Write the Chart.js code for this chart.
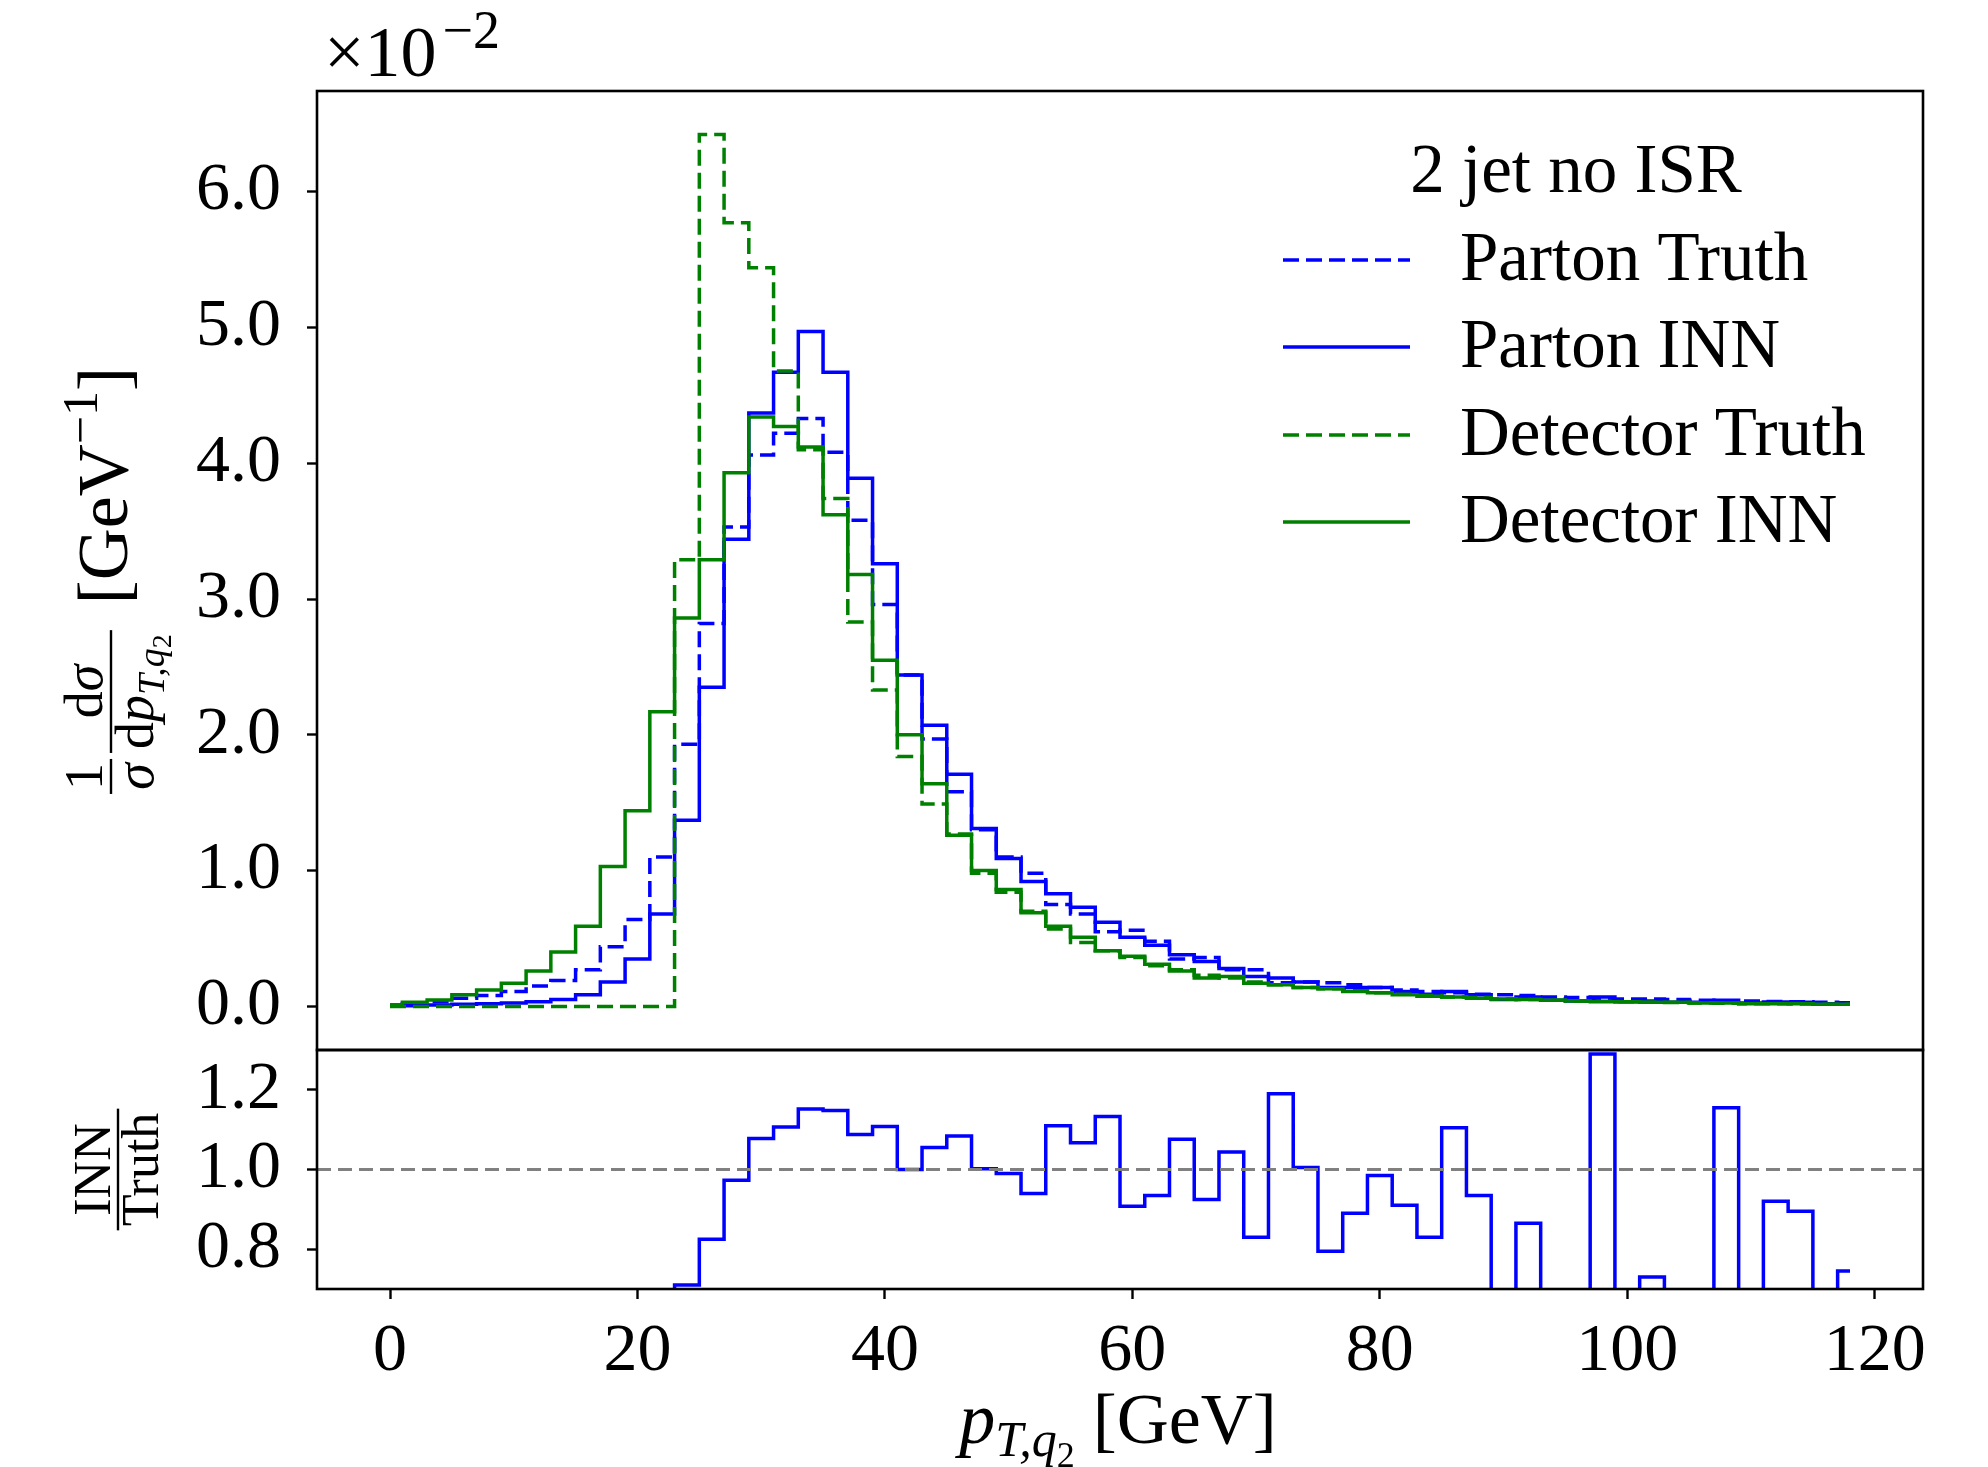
<!DOCTYPE html>
<html>
<head>
<meta charset="utf-8">
<title>pT q2 distribution</title>
<script src="https://cdn.jsdelivr.net/npm/chart.js"></script>
<style>
  html, body { margin: 0; padding: 0; background: #fff; }
  #wrap { position: relative; width: 1988px; height: 1467px; overflow: hidden; }
  #top { position: absolute; left: 0; top: 0; }
  #bottom { position: absolute; left: 0; top: 1048px; }
</style>
</head>
<body>
<div id="wrap">
  <canvas id="top" width="1988" height="1052"></canvas>
  <canvas id="bottom" width="1988" height="419"></canvas>
</div>
<script>
// bin centres in GeV (bins of 2 GeV, drawn as mid steps)
const binCenters = [0, 2, 4, 6, 8, 10, 12, 14, 16, 18, 20, 22, 24, 26, 28, 30, 32, 34, 36, 38,
  40, 42, 44, 46, 48, 50, 52, 54, 56, 58, 60, 62, 64, 66, 68, 70, 72, 74, 76, 78,
  80, 82, 84, 86, 88, 90, 92, 94, 96, 98, 100, 102, 104, 106, 108, 110, 112, 114, 116, 118];

// 1/sigma dsigma/dpT, in units of 1e-2
const partonTruth = [0.01, 0.02, 0.035, 0.06, 0.08, 0.11, 0.15, 0.19, 0.27, 0.44, 0.64, 1.10, 1.93, 2.82, 3.53, 4.06, 4.22, 4.33, 4.08, 3.58,
  2.96, 2.44, 1.97, 1.58, 1.30, 1.10, 0.98, 0.75, 0.68, 0.55, 0.56, 0.48, 0.35, 0.36, 0.27, 0.27, 0.175, 0.18, 0.175, 0.16,
  0.14, 0.12, 0.11, 0.10, 0.09, 0.085, 0.08, 0.07, 0.065, 0.055, 0.055, 0.055, 0.05, 0.045, 0.04, 0.04, 0.036, 0.034, 0.03, 0.027];
const partonINN = [0.003, 0.005, 0.01, 0.015, 0.02, 0.025, 0.035, 0.05, 0.085, 0.18, 0.35, 0.68, 1.37, 2.35, 3.44, 4.37, 4.67, 4.97, 4.67, 3.89,
  3.26, 2.44, 2.07, 1.71, 1.31, 1.09, 0.92, 0.83, 0.73, 0.62, 0.51, 0.45, 0.38, 0.33, 0.28, 0.22, 0.21, 0.18, 0.14, 0.14,
  0.14, 0.11, 0.09, 0.11, 0.085, 0.05, 0.07, 0.045, 0.04, 0.07, 0.035, 0.04, 0.03, 0.03, 0.045, 0.025, 0.033, 0.03, 0.02, 0.02];
const detectorTruth = [0, 0, 0, 0, 0, 0, 0, 0, 0, 0, 0, 0, 3.29, 6.42, 5.77, 5.44, 4.68, 4.10, 3.74, 2.83,
  2.33, 1.84, 1.49, 1.27, 0.98, 0.84, 0.70, 0.57, 0.47, 0.41, 0.36, 0.30, 0.27, 0.23, 0.21, 0.18, 0.16, 0.14, 0.13, 0.115,
  0.10, 0.09, 0.08, 0.07, 0.065, 0.055, 0.05, 0.045, 0.04, 0.038, 0.035, 0.03, 0.028, 0.025, 0.024, 0.02, 0.02, 0.018, 0.016, 0.015];
const detectorINN = [0.01, 0.03, 0.048, 0.085, 0.12, 0.17, 0.26, 0.40, 0.59, 1.03, 1.44, 2.17, 2.86, 3.29, 3.93, 4.34, 4.27, 4.12, 3.62, 3.18,
  2.55, 2.00, 1.64, 1.26, 1.00, 0.86, 0.69, 0.59, 0.51, 0.41, 0.37, 0.31, 0.26, 0.21, 0.22, 0.17, 0.16, 0.14, 0.13, 0.11,
  0.10, 0.085, 0.075, 0.07, 0.06, 0.055, 0.05, 0.045, 0.04, 0.035, 0.035, 0.03, 0.03, 0.025, 0.025, 0.02, 0.02, 0.02, 0.015, 0.015];

// parton INN / parton truth (values under 0.7 fall off the panel)
const ratioINN = [0.30, 0.25, 0.28, 0.30, 0.25, 0.22, 0.24, 0.28, 0.32, 0.42, 0.55, 0.62, 0.71, 0.825, 0.973, 1.078, 1.107, 1.152, 1.148, 1.088,
  1.108, 1.0, 1.055, 1.084, 1.002, 0.99, 0.94, 1.11, 1.067, 1.133, 0.908, 0.935, 1.076, 0.925, 1.044, 0.83, 1.19, 1.005, 0.795, 0.89,
  0.985, 0.91, 0.83, 1.105, 0.935, 0.6, 0.865, 0.62, 0.6, 1.29, 0.6, 0.73, 0.6, 0.62, 1.155, 0.6, 0.92, 0.895, 0.62, 0.745];
const ratioRef = 1.0;

const xTicks = [0, 20, 40, 60, 80, 100, 120];
const yTicksTop = [0, 1, 2, 3, 4, 5, 6];
const yTicksRatio = [0.8, 1.0, 1.2];

const legendTitle = '2 jet no ISR';
const seriesNames = ['Parton Truth', 'Parton INN', 'Detector Truth', 'Detector INN'];

const BLUE = '#0000ff';
const GREEN = '#008000';
const SERIF = "'Liberation Serif', 'DejaVu Serif', serif";
const FS = 68;

Chart.defaults.font.family = SERIF;
Chart.defaults.color = '#000';

const pts = vals => binCenters.map((x, i) => ({ x: x, y: vals[i] }));

function lineSet(label, vals, color, dashed, order) {
  return {
    label: label,
    data: pts(vals),
    borderColor: color,
    borderWidth: 3.5,
    borderDash: dashed ? [16, 7] : [],
    stepped: 'middle',
    pointRadius: 0,
    fill: false,
    order: order
  };
}

function runsWidth(ctx, runs) {
  let w = 0;
  for (const r of runs) { ctx.font = r[1]; w += ctx.measureText(r[0]).width; }
  return w;
}
function drawRuns(ctx, runs, x, y) {
  for (const r of runs) {
    ctx.font = r[1];
    ctx.fillText(r[0], x, y + (r[2] || 0));
    x += ctx.measureText(r[0]).width;
  }
  return x;
}
// fraction starting at x, bar at barY; returns width
function drawFrac(ctx, num, den, x, barY, gapN, gapD, lw) {
  const wn = runsWidth(ctx, num), wd = runsWidth(ctx, den);
  const w = Math.max(wn, wd) + 8;
  drawRuns(ctx, num, x + (w - wn) / 2, barY - gapN);
  drawRuns(ctx, den, x + (w - wd) / 2, barY + gapD);
  ctx.fillRect(x, barY - lw / 2, w, lw);
  return w;
}

const up = s => s + 'px ' + SERIF;
const it = s => 'italic ' + s + 'px ' + SERIF;

// keep Chart.js from adding room for half tick labels
function fixWidth(w) {
  return s => { s.width = w; s.paddingTop = 0; s.paddingBottom = 0; s.paddingLeft = 0; s.paddingRight = 0; };
}
function fixHeight(h) {
  return s => { s.height = h; s.paddingTop = 0; s.paddingBottom = 0; s.paddingLeft = 0; s.paddingRight = 0; };
}

const framePlugin = {
  id: 'frame',
  afterDraw(chart) {
    const a = chart.chartArea, ctx = chart.ctx;
    ctx.save();
    ctx.strokeStyle = '#000';
    ctx.lineWidth = 2.6;
    ctx.strokeRect(a.left, a.top, a.right - a.left, a.bottom - a.top);
    ctx.restore();
  }
};

const topDecor = {
  id: 'topDecor',
  afterDraw(chart) {
    const ctx = chart.ctx;
    ctx.save();
    ctx.fillStyle = '#000';
    ctx.textBaseline = 'alphabetic';
    // offset text
    let x = drawRuns(ctx, [['\u00d710', up(72)]], 324, 76);
    drawRuns(ctx, [['\u22122', up(54)]], x + 6, 48);

    // legend
    const LF = 69;
    ctx.textAlign = 'center';
    ctx.textBaseline = 'middle';
    ctx.font = up(LF);
    ctx.fillText(legendTitle, 1576, 174);
    ctx.textAlign = 'left';
    const rows = [260, 347, 435, 522];
    const styles = [[BLUE, true], [BLUE, false], [GREEN, true], [GREEN, false]];
    rows.forEach((y, i) => {
      ctx.strokeStyle = styles[i][0];
      ctx.lineWidth = 3.5;
      ctx.setLineDash(styles[i][1] ? [16, 7] : []);
      ctx.beginPath();
      ctx.moveTo(1283, y);
      ctx.lineTo(1410, y);
      ctx.stroke();
      ctx.fillText(seriesNames[i], 1460, y + 2);
    });
    ctx.setLineDash([]);

    // y title, rotated
    ctx.textBaseline = 'alphabetic';
    ctx.rotate(-Math.PI / 2);
    const F = 54, bar = 111, MF = 72;
    const num1 = [['1', up(F)]], den1 = [['\u03c3', it(F)]];
    const num2 = [['d', up(F)], ['\u03c3', it(F)]];
    const den2 = [['d', up(F)], ['p', it(F)], ['T,q', it(38), 11], ['2', up(28), 18]];
    const tail = [['[GeV', up(MF)], ['\u22121', up(50), -30], [']', up(MF)]];
    const w1 = Math.max(runsWidth(ctx, num1), runsWidth(ctx, den1)) + 8;
    const w2 = Math.max(runsWidth(ctx, num2), runsWidth(ctx, den2)) + 8;
    const w3 = runsWidth(ctx, tail);
    const total = w1 + 6 + w2 + 26 + w3;
    const cy = (chart.chartArea.top + chart.chartArea.bottom) / 2 + 10;
    let u = -cy - total / 2;
    u += drawFrac(ctx, num1, den1, u, bar, 9, 42, 2.4) + 6;
    u += drawFrac(ctx, num2, den2, u, bar, 9, 42, 2.4) + 26;
    drawRuns(ctx, tail, u, 127);
    ctx.restore();
  }
};

const ratioDecor = {
  id: 'ratioDecor',
  afterDatasetsDraw(chart) {
    const ctx = chart.ctx, a = chart.chartArea;
    const y = chart.scales.y.getPixelForValue(ratioRef);
    ctx.save();
    ctx.strokeStyle = '#808080';
    ctx.lineWidth = 3;
    ctx.setLineDash([14, 7]);
    ctx.beginPath();
    ctx.moveTo(a.left, y);
    ctx.lineTo(a.right, y);
    ctx.stroke();
    ctx.restore();
  },
  afterDraw(chart) {
    const ctx = chart.ctx, a = chart.chartArea;
    ctx.save();
    ctx.fillStyle = '#000';
    ctx.textBaseline = 'alphabetic';
    // x title
    const runs = [['p', it(72)], ['T,q', it(50), 13], ['2', up(36), 24], [' [GeV]', up(72)]];
    const w = runsWidth(ctx, runs);
    drawRuns(ctx, runs, (a.left + a.right) / 2 - w / 2 - 2, 395);
    // y title
    ctx.rotate(-Math.PI / 2);
    const num = [['INN', up(52)]], den = [['Truth', up(52)]];
    const fw = Math.max(runsWidth(ctx, num), runsWidth(ctx, den)) + 8;
    const cy = (a.top + a.bottom) / 2;
    drawFrac(ctx, num, den, -cy - fw / 2, 118, 8, 40, 2.4);
    ctx.restore();
  }
};

const tickGrid = { drawOnChartArea: false, drawTicks: true, tickLength: 10, tickColor: '#000', tickWidth: 2.4 };

new Chart(document.getElementById('top'), {
  type: 'line',
  data: {
    datasets: [
      lineSet(seriesNames[0], partonTruth, BLUE, true, 3),
      lineSet(seriesNames[1], partonINN, BLUE, false, 2),
      lineSet(seriesNames[2], detectorTruth, GREEN, true, 1),
      lineSet(seriesNames[3], detectorINN, GREEN, false, 0)
    ]
  },
  options: {
    responsive: false,
    animation: false,
    events: [],
    layout: { padding: { top: 91, right: 65, bottom: 2, left: 0 } },
    plugins: { legend: { display: false }, tooltip: { enabled: false } },
    scales: {
      x: { type: 'linear', min: -5.9, max: 123.9, display: false },
      y: {
        type: 'linear', min: -0.321, max: 6.741,
        afterBuildTicks: s => { s.ticks = yTicksTop.map(v => ({ value: v })); },
        afterFit: fixWidth(317),
        ticks: { callback: v => v.toFixed(1), font: { size: FS }, color: '#000', padding: 26 },
        grid: tickGrid,
        border: { display: false }
      }
    }
  },
  plugins: [framePlugin, topDecor]
});

new Chart(document.getElementById('bottom'), {
  type: 'line',
  data: {
    datasets: [{
      label: 'INN / Truth',
      data: pts(ratioINN),
      borderColor: BLUE,
      borderWidth: 3.5,
      stepped: 'middle',
      pointRadius: 0,
      fill: false,
      clip: 0
    }]
  },
  options: {
    responsive: false,
    animation: false,
    events: [],
    layout: { padding: { top: 2, right: 65, bottom: 0, left: 0 } },
    plugins: { legend: { display: false }, tooltip: { enabled: false } },
    scales: {
      x: {
        type: 'linear', min: -5.9, max: 123.9,
        afterBuildTicks: s => { s.ticks = xTicks.map(v => ({ value: v })); },
        afterFit: fixHeight(419 - 2 - 239),
        ticks: { callback: v => String(v), font: { size: FS }, color: '#000', padding: 12, maxRotation: 0, autoSkip: false },
        grid: tickGrid,
        border: { display: false }
      },
      y: {
        type: 'linear', min: 0.7, max: 1.3,
        afterBuildTicks: s => { s.ticks = yTicksRatio.map(v => ({ value: v })); },
        afterFit: fixWidth(317),
        ticks: { callback: v => v.toFixed(1), font: { size: FS }, color: '#000', padding: 26 },
        grid: tickGrid,
        border: { display: false }
      }
    }
  },
  plugins: [framePlugin, ratioDecor]
});
</script>
</body>
</html>
